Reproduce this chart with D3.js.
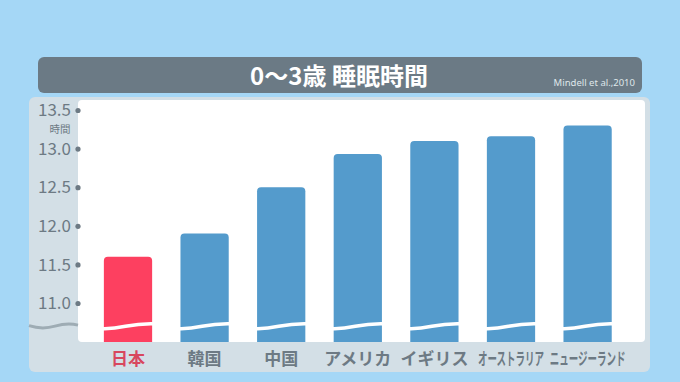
<!DOCTYPE html>
<html><head><meta charset="utf-8">
<script src="https://cdn.jsdelivr.net/npm/d3@7"></script>
<style>html,body{margin:0;padding:0;background:#a5d7f6;}svg{display:block;}</style>
</head><body>
<svg id="c" width="680" height="382"></svg>
<script>
const categories = ["日本","韓国","中国","アメリカ","イギリス","オーストラリア","ニュージーランド"];
const values = [11.6, 11.9, 12.5, 12.93, 13.1, 13.16, 13.3];
const yTicks = [11.0, 11.5, 12.0, 12.5, 13.0, 13.5];
const yTickLabels = ["11.0","11.5","12.0","12.5","13.0","13.5"];
const title = "0〜3歳 睡眠時間";
const source = "Mindell et al.,2010";
const unit = "時間";

const font = "'Noto Sans CJK JP','Noto Sans',sans-serif";
const svg = d3.select("#c");
svg.append("rect").attr("width",680).attr("height",382).attr("fill","#a5d7f6");

// title bar
svg.append("rect").attr("x",38).attr("y",57).attr("width",604).attr("height",36).attr("rx",6).attr("fill","#6b7a85");
svg.append("text").attr("x",339).attr("y",85).attr("text-anchor","middle").attr("fill","#fff")
  .attr("font-family",font).attr("font-weight","bold").attr("font-size",24).text(title);
svg.append("text").attr("x",635).attr("y",86).attr("text-anchor","end").attr("fill","#dfe6ea")
  .attr("font-family","'Noto Sans',sans-serif").attr("font-size",9.5).text(source);

// panel
svg.append("rect").attr("x",29).attr("y",97).attr("width",621).attr("height",275).attr("rx",6).attr("fill","#d3dfe6");
const plotL = 78, plotR = 645, plotT = 100, plotB = 342;
svg.append("rect").attr("x",plotL).attr("y",plotT).attr("width",plotR-plotL).attr("height",plotB-plotT).attr("rx",4).attr("fill","#ffffff");

const x = d3.scaleBand().domain(categories).range([89.7, 625.9]).paddingInner(0.37).paddingOuter(0.185);
const y = d3.scaleLinear().domain([10.5, 13.5]).range([341.6, 110]);

// bars
const r = 4;
const bw = x.bandwidth();
svg.append("g").selectAll("path").data(categories).join("path")
  .attr("d",(c,i)=>{
    const x0 = x(c), x1 = x0+bw, t = y(values[i]), b = plotB;
    return `M${x0},${b}V${t+r}Q${x0},${t} ${x0+r},${t}H${x1-r}Q${x1},${t} ${x1},${t+r}V${b}Z`;
  })
  .attr("fill",(c,i)=> i===0 ? "#fd4060" : "#549bcc");

// wave breaks on bars
const wy = y(10.7);
svg.append("g").selectAll("path").data(categories).join("path")
  .attr("d",c=>{
    const x0 = x(c)-1, x1 = x(c)+bw+1;
    return `M${x0},${wy+2.5}C${x0+bw*0.45},${wy+3} ${x0+bw*0.5},${wy-3} ${x1},${wy-2.5}`;
  })
  .attr("fill","none").attr("stroke","#fff").attr("stroke-width",3.5);

// axis break on left
svg.append("path")
  .attr("d",`M29,${wy-0.5}C40,${wy+3} 48,${wy+2} 55,${wy} C62,${wy-2} 70,${wy-3} 78,${wy-1}`)
  .attr("fill","none").attr("stroke","#9eacb4").attr("stroke-width",3);

// y axis
const yAxis = d3.axisLeft(y).tickValues(yTicks).tickFormat((d,i)=>yTickLabels[i]).tickSize(0).tickPadding(6);
const ga = svg.append("g").attr("transform",`translate(${plotL},0)`).call(yAxis);
ga.select(".domain").remove();
ga.selectAll("text").attr("font-family",font).attr("font-size",17).attr("fill","#6d7a84").attr("dy","0.34em").attr("dx",-1);
ga.selectAll(".tick").append("circle").attr("r",2.6).attr("cx",0).attr("fill","#6d7a84");
svg.append("text").attr("x",60).attr("y",133).attr("text-anchor","middle").attr("font-family",font)
  .attr("font-size",10.5).attr("fill","#6d7a84").text(unit);

// x labels
const xAxis = d3.axisBottom(x).tickSize(0).tickPadding(0);
const gx = svg.append("g").attr("transform",`translate(0,${plotB})`).call(xAxis);
gx.select(".domain").remove();
const fitW = {"オーストラリア":66, "ニュージーランド":76};
gx.selectAll("text").attr("font-family",font).attr("font-size",17).attr("font-weight","bold")
  .attr("y",21).attr("dy","0.1em")
  .attr("fill",(d,i)=> i===0 ? "#d8475e" : "#6d7a84")
  .each(function(d){
    if (fitW[d]) {
      const w = this.getComputedTextLength();
      d3.select(this).attr("transform",`scale(${fitW[d]/w},1)`);
    }
  });
</script>
</body></html>
